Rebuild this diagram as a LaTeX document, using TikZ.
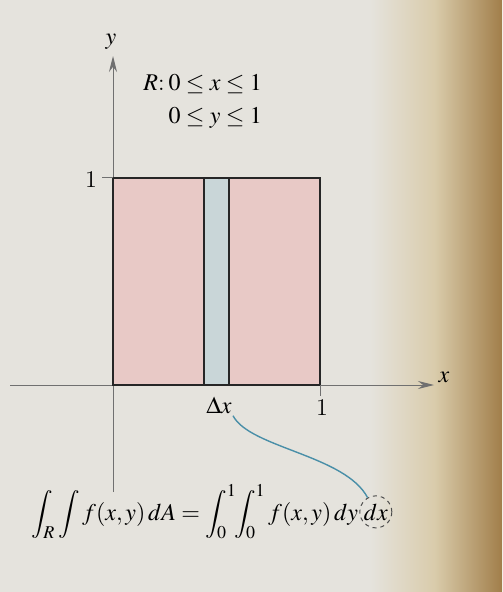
\documentclass[tikz,border=0pt]{standalone}
\usepackage{mathptmx}
\usepackage{tikz}
\usetikzlibrary{arrows.meta,positioning}
\definecolor{pagegray}{HTML}{E5E3DD}
\definecolor{pagebeige}{HTML}{D9CBAA}
\definecolor{pagebrown}{HTML}{A17E4A}
\definecolor{regionpink}{HTML}{E8C9C6}
\definecolor{stripblue}{HTML}{C9D6D8}
\definecolor{leadblue}{HTML}{4A8FA8}
\definecolor{axisgray}{HTML}{707070}
\tikzset{
    axis/.style={draw=axisgray, line width=0.5pt, -{Stealth[length=8pt, width=4pt]}},
    tick/.style={draw=axisgray, line width=0.5pt},
    region/.style={fill=regionpink},
    strip/.style={fill=stripblue},
    border/.style={draw=black!85, line width=1pt},
    leader/.style={draw=leadblue, line width=0.7pt},
    ring/.style={circle, draw=black!70, dash pattern=on 2pt off 2pt, line width=0.5pt, minimum size=16pt, inner sep=0pt},
    label/.style={inner sep=1pt}
}

\begin{document}
\fontsize{12}{14.5}\selectfont
\begin{tikzpicture}[x=0.5pt, y=-0.5pt]
    \useasboundingbox (0,0) rectangle (502,592);
    % page
    \fill[pagegray] (0,0) rectangle (371,592);
    \shade[left color=pagegray, right color=pagebeige] (370,0) rectangle (436,592);
    \shade[left color=pagebeige, right color=pagebrown] (435,0) rectangle (502,592);

    % region R and strip
    \fill[region] (113,178) rectangle (320,385);
    \fill[strip] (204,178) rectangle (229,385);
    \draw[border] (204,178) -- (204,385);
    \draw[border] (229,178) -- (229,385);

    % axes
    \coordinate (xstart) at (10,385);
    \coordinate (xend) at (434,385);
    \coordinate (ystart) at (113,492);
    \coordinate (yend) at (113,56);
    \draw[axis] (xstart) -- (xend);
    \draw[axis] (ystart) -- (yend);
    \draw[border] (113,178) rectangle (320,385);
    \draw[tick] (102,178) -- (113,178);
    \draw[tick] (320,385) -- (320,396);

    % labels
    \node[label] (xlab) at (444,377) {$x$};
    \node[label] (ylab) at (111,42) {$y$};
    \node[label] (yone) at (91,180) {1};
    \node[label] (xone) at (322,408) {1};
    \node[label] (dlx) at (219,405) {$\Delta x$};
    \node[label, anchor=base west] (rdef) at (141,91) {%
        \begin{tabular}[t]{@{}l@{\,}l@{}}
            $R$: & $0\le x\le 1$\\[2pt]
                 & $0\le y\le 1$
        \end{tabular}};

    % formula
    \node[anchor=base west, inner sep=0pt] (lhs) at (31,520)
        {$\displaystyle \int_R\int f(x, y)\, dA = \int_0^1\!\!\int_0^1 f(x, y)\, dy$};
    \node[anchor=base west, inner sep=0pt] (dx) at ([xshift=2.5pt]lhs.base east) {$dx$};
    \node[ring] (dxring) at (dx.center) {};

    % leader
    \draw[leader] ([xshift=7pt]dlx.south) .. controls (250,448) and (345,455) .. (dxring.120);
\end{tikzpicture}
\end{document}
